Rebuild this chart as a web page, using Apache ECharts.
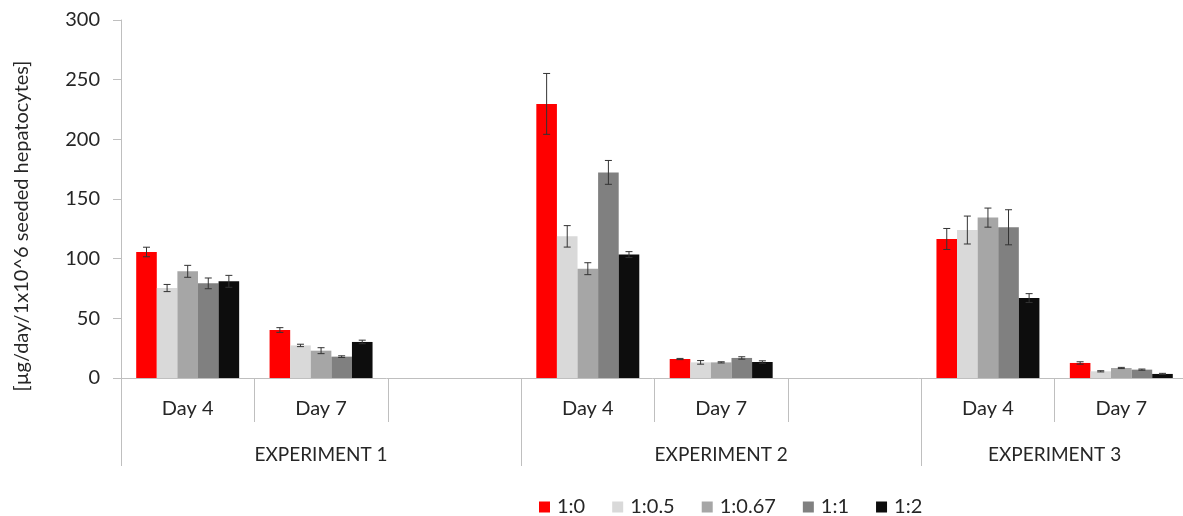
<!DOCTYPE html>
<html>
<head>
<meta charset="utf-8">
<script src="https://cdn.jsdelivr.net/npm/echarts@6/dist/echarts.min.js"></script>
<style>
html,body{margin:0;padding:0;background:#fff;}
#chart{width:1183px;height:516px;}
</style>
</head>
<body>
<div id="chart"></div>
<script>
// ---- data ----
const categories = ['Day 4', 'Day 7', '', 'Day 4', 'Day 7', '', 'Day 4', 'Day 7'];
const seriesNames = ['1:0', '1:0.5', '1:0.67', '1:1', '1:2'];
const seriesColors = ['#ff0000', '#d9d9d9', '#a6a6a6', '#808080', '#0d0d0d'];

const val_1_0   = [105.6, 40.2, null, 229.7, 15.9, null, 116.5, 12.6];
const val_1_05  = [75.4, 27.3, null, 118.7, 13.1, null, 124.0, 5.6];
const val_1_067 = [89.4, 22.9, null, 91.6, 13.1, null, 134.4, 8.4];
const val_1_1   = [79.3, 17.9, null, 172.3, 16.8, null, 126.3, 7.0];
const val_1_2   = [81.0, 30.2, null, 103.4, 13.4, null, 67.0, 3.4];

const err_1_0   = [4.0, 2.0, null, 25.5, 0.5, null, 8.8, 1.0];
const err_1_05  = [3.0, 1.0, null, 9.0, 1.5, null, 11.7, 0.5];
const err_1_067 = [5.0, 2.5, null, 5.0, 0.5, null, 8.0, 0.5];
const err_1_1   = [4.5, 0.7, null, 10.0, 1.0, null, 14.7, 0.5];
const err_1_2   = [5.0, 1.5, null, 2.5, 1.0, null, 3.7, 0.5];

const experimentLabels = ['EXPERIMENT 1', 'EXPERIMENT 2', 'EXPERIMENT 3'];
const experimentSlots = [3, 3, 2];   // number of category slots per experiment

const yTicks = [0, 50, 100, 150, 200, 250, 300];
const yTitle = '[µg/day/1x10^6 seeded hepatocytes]';

// ---- build ----
const values = [val_1_0, val_1_05, val_1_067, val_1_1, val_1_2];
const errors = [err_1_0, err_1_05, err_1_067, err_1_1, err_1_2];

const barCatGap = 0.228;
const FONT = 'Lato';
const axisGray = '#bfbfbf';

const expBounds = [0];
experimentSlots.forEach(n => expBounds.push(expBounds[expBounds.length - 1] + n));
const expCenters = experimentSlots.map((n, i) => expBounds[i] + n / 2);

const series = [];
values.forEach((arr, i) => {
  series.push({
    name: seriesNames[i],
    type: 'bar',
    xAxisIndex: 0,
    data: arr.map(v => v == null ? '-' : v),
    itemStyle: { color: seriesColors[i] },
    barGap: '0%',
    barCategoryGap: (barCatGap * 100) + '%',
    animation: false
  });
});
values.forEach((arr, i) => {
  const data = [];
  arr.forEach((v, k) => { if (v != null) data.push([k, v, errors[i][k]]); });
  series.push({
    name: 'err' + i,
    type: 'custom',
    xAxisIndex: 0,
    data: data,
    encode: { x: 0, y: 1 },
    z: 10,
    animation: false,
    silent: true,
    renderItem: function (params, api) {
      const idx = api.value(0);
      const v = api.value(1);
      const e = api.value(2);
      const c = api.coord([idx, v]);
      const band = api.size([1, 0])[0];
      const barW = band * (1 - barCatGap) / values.length;
      const cx = c[0] + (i - (values.length - 1) / 2) * barW;
      const yt = api.coord([idx, v + e])[1];
      const yb = api.coord([idx, v - e])[1];
      const cap = 3.5;
      const st = { stroke: '#333', lineWidth: 1 };
      return {
        type: 'group',
        children: [
          { type: 'line', shape: { x1: cx, y1: yt, x2: cx, y2: yb }, style: st },
          { type: 'line', shape: { x1: cx - cap, y1: yt, x2: cx + cap, y2: yt }, style: st },
          { type: 'line', shape: { x1: cx - cap, y1: yb, x2: cx + cap, y2: yb }, style: st }
        ]
      };
    }
  });
});

const chart = echarts.init(document.getElementById('chart'), null, { renderer: 'canvas' });
chart.setOption({
  backgroundColor: '#ffffff',
  textStyle: { fontFamily: FONT },
  grid: { left: 121, right: -5, top: 20, bottom: 138, containLabel: false, outerBoundsMode: 'none' },
  legend: {
    data: seriesNames,
    left: 534,
    top: 492,
    icon: 'rect',
    itemWidth: 11,
    itemHeight: 11,
    itemGap: 27,
    textStyle: { fontFamily: FONT, fontSize: 20, color: '#262626', padding: [0, 0, 0, 2] }
  },
  xAxis: [
    {
      type: 'category',
      data: categories,
      position: 'bottom',
      boundaryGap: true,
      axisLine: { show: true, lineStyle: { color: axisGray, width: 1 } },
      axisTick: { show: true, interval: 0, length: 44, alignWithLabel: false, lineStyle: { color: axisGray } },
      axisLabel: { interval: 0, margin: 21, fontFamily: FONT, fontSize: 20, color: '#262626' },
      splitLine: { show: false }
    },
    {
      type: 'value',
      min: 0,
      max: categories.length,
      position: 'bottom',
      offset: 0,
      axisLine: { show: false },
      axisTick: { show: true, customValues: expBounds, length: 88, lineStyle: { color: axisGray } },
      axisLabel: {
        customValues: expCenters,
        margin: 67,
        fontFamily: FONT, fontSize: 19, color: '#262626',
        formatter: function (v) {
          const k = expCenters.indexOf(v);
          return k >= 0 ? experimentLabels[k] : '';
        }
      },
      splitLine: { show: false }
    }
  ],
  yAxis: {
    type: 'value',
    min: yTicks[0],
    max: yTicks[yTicks.length - 1],
    interval: yTicks[1] - yTicks[0],
    name: yTitle,
    nameLocation: 'middle',
    nameRotate: 90,
    nameGap: 89,
    nameTextStyle: { fontFamily: FONT, fontSize: 20, color: '#262626', padding: [0, 54, 0, 0] },
    axisLine: { show: true, lineStyle: { color: axisGray } },
    axisTick: { show: true, length: 8, lineStyle: { color: axisGray } },
    axisLabel: { margin: 21, fontFamily: FONT, fontSize: 20, color: '#262626' },
    splitLine: { show: false }
  },
  series: series
});
</script>
</body>
</html>
